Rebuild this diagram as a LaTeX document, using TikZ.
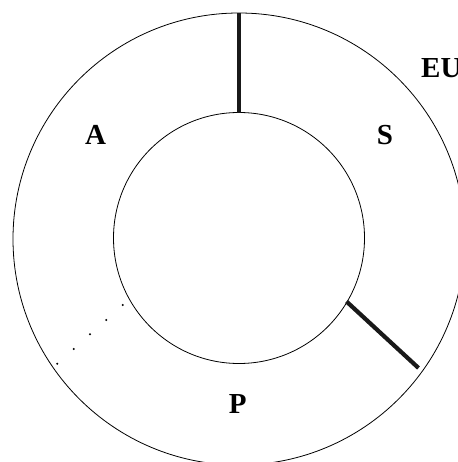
\documentclass[tikz,border=0pt]{standalone}
\usepackage{fontspec}
\setmainfont{Liberation Serif}
\begin{document}
\begin{tikzpicture}[x=1pt,y=-1pt,
  ring/.style={circle,draw,line width=0.8pt,inner sep=0pt,minimum size=#1},
  wall/.style={line width=4.2pt,draw=black!90},
  lab/.style={font=\fontsize{29}{29}\selectfont\bfseries,inner sep=0pt}]
\useasboundingbox (0,0) rectangle (457,462);
\node[ring=452pt] (outer) at (239,239) {};
\node[ring=251pt] (inner) at (239,238) {};
\coordinate (t1) at (239.3,13);
\coordinate (t2) at (239.3,113);
\coordinate (r1) at (346.5,301.5);
\coordinate (r2) at (418.5,368);
\draw[wall] (t1) -- (t2);
\draw[wall] (r1) -- (r2);
\foreach \i/\x/\y in {1/122.7/305,2/106.3/320,3/90/334.3,4/73.7/349,5/57.3/363.7}
  \fill (\x,\y) circle (1.1pt) coordinate (d\i);
\node[lab] (A) at (95.7,135) {A};
\node[lab] (S) at (385,135) {S};
\node[lab] (P) at (237.7,404) {P};
\node[lab,anchor=west] (EU) at (421,67.7) {EU};
\end{tikzpicture}
\end{document}
